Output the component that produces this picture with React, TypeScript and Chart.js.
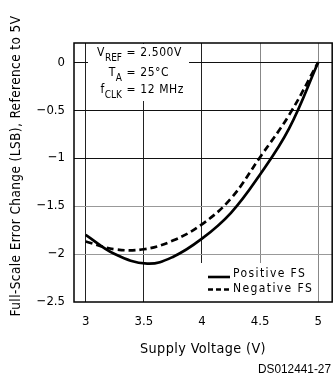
import { useEffect, useRef } from 'react';
import { Chart, registerables } from 'chart.js';

Chart.register(...registerables);

const FONT = "'DejaVu Sans Condensed', 'DejaVu Sans', sans-serif";

const X_TICKS = [3, 3.5, 4, 4.5, 5];
const Y_TICKS = [0, -0.5, -1, -1.5, -2, -2.5];

const POS_X = [3, 3.25, 3.53, 3.75, 4, 4.25, 4.5, 4.75, 5];
const POS_Y = [-1.8, -2.0, -2.1, -2.03, -1.84, -1.57, -1.17, -0.69, 0];
const NEG_X = [3, 3.25, 3.5, 3.75, 4, 4.25, 4.5, 4.75, 5];
const NEG_Y = [-1.87, -1.95, -1.95, -1.86, -1.69, -1.42, -0.99, -0.55, 0];

const SERIES_LABELS = ['Positive FS', 'Negative FS'];
const COND_MAIN = ['V', 'T', 'f'];
const COND_SUB = ['REF', 'A', 'CLK'];
const COND_REST = ['= 2.500V', '= 25°C', '= 12 MHz'];
const X_TITLE = 'Supply Voltage (V)';
const Y_TITLE = 'Full-Scale Error Change (LSB), Reference to 5V';
const FIG_CODE = 'DS012441-27';

const toPoints = (xs: number[], ys: number[]) => xs.map((x, i) => ({ x, y: ys[i] }));

const overlay = {
  id: 'overlay',
  afterDatasetsDraw(chart: any) {
    const ctx = chart.ctx as CanvasRenderingContext2D;
    const { left, top, right, bottom } = chart.chartArea;
    ctx.save();
    // conditions box
    ctx.fillStyle = '#fff';
    ctx.fillRect(88, top + 1, 101, 57);
    ctx.fillStyle = '#000';
    ctx.textBaseline = 'alphabetic';
    const baselines = [56, 76, 93];
    const subBase = [60.5, 80.5, 97.5];
    for (let i = 0; i < 3; i++) {
      ctx.font = `10px ${FONT}`;
      ctx.textAlign = 'right';
      const subW = ctx.measureText(COND_SUB[i]).width;
      ctx.fillText(COND_SUB[i], 122, subBase[i]);
      ctx.font = `12px ${FONT}`;
      ctx.fillText(COND_MAIN[i], 122 - subW - 0.5, baselines[i]);
      ctx.textAlign = 'left';
      (ctx as any).letterSpacing = '0.6px';
      ctx.fillText(COND_REST[i], 126.5, baselines[i]);
      (ctx as any).letterSpacing = '0px';
    }
    // legend
    ctx.fillStyle = '#fff';
    ctx.fillRect(200, 263, 117, bottom - 263);
    ctx.strokeStyle = '#000';
    ctx.lineWidth = 2.6;
    ctx.beginPath();
    ctx.moveTo(208, 277);
    ctx.lineTo(230, 277);
    ctx.stroke();
    ctx.setLineDash([5, 3]);
    ctx.beginPath();
    ctx.moveTo(208, 289.5);
    ctx.lineTo(231, 289.5);
    ctx.stroke();
    ctx.setLineDash([]);
    ctx.fillStyle = '#000';
    ctx.font = `12px ${FONT}`;
    (ctx as any).letterSpacing = '1.4px';
    ctx.textAlign = 'left';
    ctx.fillText(SERIES_LABELS[0], 233, 277, 81);
    ctx.fillText(SERIES_LABELS[1], 233, 291.5, 81);
    (ctx as any).letterSpacing = '0px';
    // frame
    ctx.lineWidth = 1.5;
    ctx.strokeStyle = '#000';
    ctx.strokeRect(left, top, right - left, bottom - top);
    ctx.restore();
  },
  afterDraw(chart: any) {
    const ctx = chart.ctx as CanvasRenderingContext2D;
    ctx.save();
    ctx.fillStyle = '#000';
    ctx.textBaseline = 'alphabetic';
    ctx.textAlign = 'center';
    ctx.font = `14.5px ${FONT}`;
    (ctx as any).letterSpacing = '0.4px';
    ctx.fillText(X_TITLE, 203, 352.5, 126);
    ctx.save();
    ctx.translate(20, 166);
    ctx.rotate(-Math.PI / 2);
    ctx.font = `13.5px ${FONT}`;
    ctx.fillText(Y_TITLE, 0, 0, 315);
    ctx.restore();
    (ctx as any).letterSpacing = '0px';
    ctx.textAlign = 'left';
    ctx.font = `13px 'Liberation Sans', Arial, sans-serif`;
    ctx.fillText(FIG_CODE, 258, 373, 73);
    ctx.restore();
  },
};

export default function App() {
  const ref = useRef<HTMLCanvasElement>(null);
  useEffect(() => {
    document.body.style.margin = '0';
    const canvas = ref.current!;
    const chart = new Chart(canvas, {
      type: 'line',
      data: {
        datasets: [
          {
            label: SERIES_LABELS[0],
            data: toPoints(POS_X, POS_Y),
            borderColor: '#000',
            borderWidth: 2.7,
            pointRadius: 0,
            tension: 0.4,
            fill: false,
          },
          {
            label: SERIES_LABELS[1],
            data: toPoints(NEG_X, NEG_Y),
            borderColor: '#000',
            borderWidth: 2.7,
            borderDash: [7, 4],
            pointRadius: 0,
            tension: 0.4,
            fill: false,
          },
        ],
      },
      options: {
        animation: false,
        responsive: false,
        devicePixelRatio: 1,
        layout: { padding: { left: 0, top: 43, right: 1, bottom: 0 } },
        plugins: { legend: { display: false }, tooltip: { enabled: false } },
        scales: {
          x: {
            type: 'linear',
            min: 2.9,
            max: 5.12,
            afterBuildTicks: (s: any) => {
              s.ticks = X_TICKS.map((v) => ({ value: v }));
            },
            afterFit: (s: any) => {
              s.height = 73;
            },
            border: { display: false },
            grid: {
              drawTicks: false,
              lineWidth: 1,
              color: (c: any) => (c.tick && c.tick.value >= 4.5 ? '#888' : '#222'),
            },
            ticks: {
              padding: 12,
              color: '#000',
              font: { family: FONT, size: 13 },
              callback: (v: any) => String(v),
            },
          },
          y: {
            type: 'linear',
            min: -2.5,
            max: 0.2,
            afterBuildTicks: (s: any) => {
              s.ticks = Y_TICKS.map((v) => ({ value: v }));
            },
            afterFit: (s: any) => {
              s.width = 74;
            },
            border: { display: false },
            grid: {
              drawTicks: false,
              lineWidth: 1,
              color: (c: any) => {
                const v = c.tick ? c.tick.value : 0;
                if (v <= -2.5) return 'rgba(0,0,0,0)';
                if (v <= -1.5) return '#999';
                return '#111';
              },
            },
            ticks: {
              padding: 9,
              color: '#000',
              font: { family: FONT, size: 13 },
              callback: (v: any) => (v === 0 ? '0' : String(v).replace('-', '\u2212')),
            },
          },
        },
      },
      plugins: [overlay],
    });
    return () => chart.destroy();
  }, []);
  return <canvas ref={ref} width={334} height={375} style={{ display: 'block' }} />;
}
